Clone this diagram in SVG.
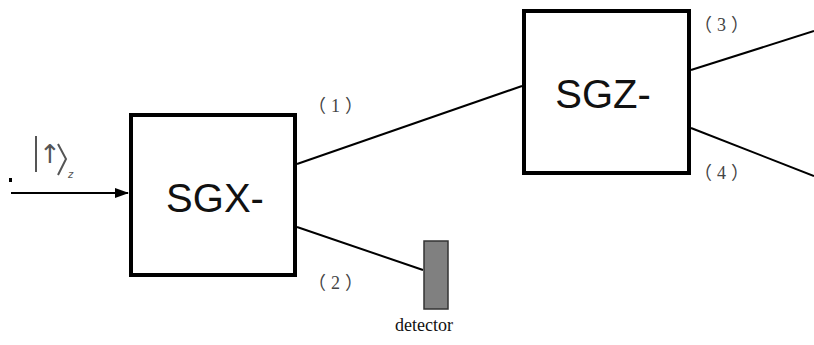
<svg xmlns="http://www.w3.org/2000/svg" width="814" height="345" viewBox="0 0 814 345">
<style>
.box{fill:#fff;stroke:#000;stroke-width:4}
.title{font-family:"Liberation Sans",Arial,sans-serif;font-size:40px;fill:#111;text-anchor:middle}
.num{font-family:"Liberation Serif","Noto Sans CJK SC",serif;font-size:18px;fill:#444;letter-spacing:5px}
.line{stroke:#000;stroke-width:2;fill:none}
.ket{font-family:"DejaVu Sans","Liberation Sans",sans-serif;fill:#555}
.det{font-family:"Liberation Serif","Times New Roman",serif;font-size:18px;fill:#111;text-anchor:middle}
</style>
<defs>
<marker id="arr" markerWidth="14" markerHeight="10" refX="13" refY="5" orient="auto" markerUnits="userSpaceOnUse">
<path d="M0,0 L14,5 L0,10 Z" fill="#000"/>
</marker>
</defs>
<rect width="814" height="345" fill="#fff"/>
<g id="connectors">
<line class="line" x1="11" y1="193" x2="128" y2="193" marker-end="url(#arr)"/>
<line class="line" x1="297" y1="164" x2="522" y2="86"/>
<line class="line" x1="297" y1="227" x2="423" y2="270"/>
<line class="line" x1="691" y1="70" x2="814" y2="31"/>
<line class="line" x1="691" y1="128" x2="814" y2="176"/>
</g>
<g id="input">
<rect x="9" y="178" width="3" height="4" fill="#000"/>
<line x1="36" y1="136" x2="36" y2="172" stroke="#555" stroke-width="2"/>
<text class="ket" x="50" y="163" font-size="26" text-anchor="middle">↑</text>
<path d="M58,144 L66,159 L58,175" fill="none" stroke="#555" stroke-width="2"/>
<text class="ket" x="68" y="178" font-size="10" font-style="italic">z</text>
</g>
<g id="sgx">
<rect class="box" x="131" y="115" width="164" height="160"/>
<text class="title" x="215" y="212">SGX-</text>
</g>
<g id="sgz">
<rect class="box" x="524" y="11" width="165" height="162"/>
<text class="title" x="603" y="108">SGZ-</text>
</g>
<g id="detector">
<rect x="424" y="241" width="24" height="68" fill="#808080" stroke="#333" stroke-width="1.5"/>
<text class="det" x="424" y="331">detector</text>
</g>
<g id="labels">
<text class="num" x="308" y="112">（1）</text>
<text class="num" x="308" y="289">（2）</text>
<text class="num" x="694" y="31">（3）</text>
<text class="num" x="694" y="179">（4）</text>
</g>
</svg>
